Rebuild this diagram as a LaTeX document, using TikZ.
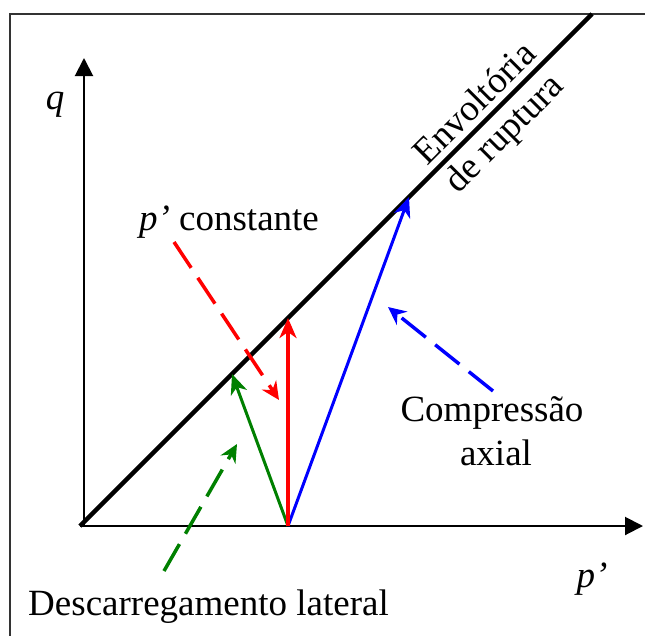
\documentclass[tikz,border=0pt]{standalone}
\usepackage{fontspec}
\setmainfont{Liberation Serif}
\usetikzlibrary{arrows.meta}
\begin{document}
\begin{tikzpicture}[x=1pt,y=-1pt,
  lbl/.style={inner sep=0pt, font=\fontsize{37}{42}\selectfont},
  axisline/.style={line width=2pt, -{Triangle[length=18pt,width=18pt]}},
  spath/.style={line width=3pt, -{Stealth[length=20pt,width=17pt,inset=6pt]}},
  dpath/.style={line width=3.5pt, dash pattern=on 31pt off 12pt, -{Stealth[length=18pt,width=17pt,inset=6pt]}}]
\useasboundingbox (0,0) rectangle (645,635);
% frame
\draw[line width=2pt, draw=black!80] (10,640) -- (10,14) -- (650,14);
% key points
\coordinate (O) at (80,526);
\coordinate (Y0) at (84,527);
\coordinate (Ytip) at (84,58);
\coordinate (Xtip) at (643,526);
\coordinate (Etop) at (592,14);
\coordinate (S) at (288,526);
\coordinate (R) at (288,318);
\coordinate (G) at (232,374);
\coordinate (B) at (409,197);
% axes
\draw[axisline] (Y0) -- (Ytip);
\draw[axisline] (O) -- (Xtip);
% envelope
\draw[line width=4.5pt] (O) -- (Etop);
% stress paths
\draw[spath, green!50!black] (S) -- (G);
\draw[spath, blue] (S) -- (B);
\draw[spath, red, line width=4pt] (S) -- (R);
% dashed pointers
\coordinate (rd1) at (174,242); \coordinate (rd2) at (279,400);
\coordinate (bd1) at (493,391); \coordinate (bd2) at (388,307);
\coordinate (gd1) at (164,571); \coordinate (gd2) at (237,444);
\draw[dpath, red] (rd1) -- (rd2);
\draw[dpath, blue] (bd1) -- (bd2);
\draw[dpath, green!50!black] (gd1) -- (gd2);
% labels
\node[lbl, anchor=base] (q) at (55,109) {\textit{q}};
\node[lbl, anchor=base] (pp) at (592,587) {\textit{p’}};
\node[lbl, anchor=base] (pc) at (229,230) {\textit{p’} constante};
\node[lbl, anchor=base] (dl) at (208.5,615) {Descarregamento lateral};
\node[lbl, anchor=base] (c1) at (492,421) {Compressão};
\node[lbl, anchor=base] (c2) at (496,465) {axial};
\node[lbl, rotate=45, align=center] (env) at (491,120) {Envoltória\\de ruptura};
\end{tikzpicture}
\end{document}
